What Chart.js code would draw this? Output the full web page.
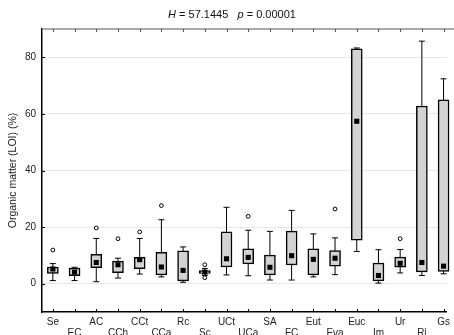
<!DOCTYPE html>
<html><head><meta charset="utf-8">
<script src="https://cdn.jsdelivr.net/npm/chart.js@4/dist/chart.umd.min.js"></script>
<style>html,body{margin:0;padding:0;background:#fff;}</style>
</head><body>
<canvas id="c" width="454" height="335"></canvas>
<script>
const categories = ['Se','EC','AC','CCh','CCt','CCa','Rc','Sc','UCt','UCa','SA','FC','Eut','Eva','Euc','Im','Ur','Ri','Gs'];
const q1      = [3.6, 2.8, 5.7, 3.9, 5.3, 3.1, 1.0, 3.6, 5.9, 7.0, 3.1, 6.6, 3.1, 6.2, 15.4, 1.0, 5.8, 4.2, 4.3];
const q3      = [5.9, 5.5, 10.4, 8.0, 9.3, 11.1, 11.6, 4.6, 18.3, 12.3, 10.1, 18.6, 12.3, 11.7, 83.0, 7.3, 9.4, 62.8, 65.0];
const medians = [5.2, 4.1, 7.5, 6.7, 8.5, 5.9, 4.7, 4.1, 8.8, 9.3, 5.8, 9.9, 8.6, 9.0, 57.4, 2.9, 7.2, 7.5, 6.2];
const whiskerLow  = [1.1, 1.1, 0.7, 2.0, 3.4, 2.4, 0.5, 2.9, 3.1, 2.8, 1.3, 1.3, 2.4, 3.2, 11.4, 0.2, 3.8, 2.9, 3.5];
const whiskerHigh = [7.1, 5.8, 16.0, 9.0, 16.0, 22.6, 13.0, 5.4, 27.0, 18.9, 18.5, 25.9, 17.6, 16.2, 83.3, 12.0, 12.1, 85.7, 72.4];
const outlierCategory = ['Se','AC','CCh','CCt','CCa','Sc','Sc','UCa','Eva','Ur'];
const outlierValue    = [11.9, 19.7, 15.9, 18.3, 27.6, 6.7, 2.1, 23.8, 26.4, 15.9];
const yTickValues = [0, 20, 40, 60, 80];
const titleParts = [['H', true], [' = 57.1445   ', false], ['p', true], [' = 0.00001', false]];
const yTitle = 'Organic matter (LOI) (%)';

const FONT = '"Liberation Sans", Arial, sans-serif';

const whiskerLine = [];
categories.forEach((c, i) => {
  whiskerLine.push({x: i, y: whiskerLow[i]}, {x: i, y: whiskerHigh[i]}, {x: i, y: null});
});
const caps = [];
categories.forEach((c, i) => { caps.push({x: i, y: whiskerLow[i]}, {x: i, y: whiskerHigh[i]}); });
const boxes = categories.map((c, i) => ({x: i, y: [q1[i], q3[i]]}));
const meds = categories.map((c, i) => ({x: i, y: medians[i]}));
const outs = outlierCategory.map((c, k) => ({x: categories.indexOf(c), y: outlierValue[k]}));

const decor = {
  id: 'decor',
  afterDraw(chart) {
    const {ctx, chartArea: a, scales: {x, y}} = chart;
    ctx.save();
    ctx.strokeStyle = '#8c8c8c';
    ctx.lineWidth = 1.5;
    ctx.beginPath(); ctx.moveTo(a.left, a.top); ctx.lineTo(chart.width, a.top); ctx.stroke();
    ctx.lineWidth = 1;
    x.ticks.forEach(t => {
      const px = Math.round(x.getPixelForValue(t.value)) + 0.5;
      ctx.strokeStyle = '#000';
      ctx.beginPath(); ctx.moveTo(px, a.bottom); ctx.lineTo(px, a.bottom - 3); ctx.stroke();
      ctx.strokeStyle = '#555';
      ctx.beginPath(); ctx.moveTo(px, a.top); ctx.lineTo(px, a.top + 3); ctx.stroke();
    });
    ctx.strokeStyle = '#000';
    y.ticks.forEach(t => {
      const py = Math.round(y.getPixelForValue(t.value)) + 0.5;
      ctx.beginPath(); ctx.moveTo(a.left, py); ctx.lineTo(a.left + 3, py); ctx.stroke();
    });
    const size = 11;
    let total = 0;
    titleParts.forEach(([t, it]) => { ctx.font = (it ? 'italic ' : '') + size + 'px ' + FONT; total += ctx.measureText(t).width; });
    let cx = 232 - total / 2;
    ctx.fillStyle = '#111';
    ctx.textBaseline = 'middle';
    ctx.textAlign = 'left';
    titleParts.forEach(([t, it]) => {
      ctx.font = (it ? 'italic ' : '') + size + 'px ' + FONT;
      ctx.fillText(t, cx, 15);
      cx += ctx.measureText(t).width;
    });
    ctx.restore();
  }
};

new Chart(document.getElementById('c'), {
  type: 'bar',
  data: {
    datasets: [
      {type: 'line', data: whiskerLine, borderColor: '#000', borderWidth: 1, pointRadius: 0, spanGaps: false, order: 4, clip: false},
      {type: 'scatter', data: caps, pointStyle: 'line', pointRadius: 3, borderColor: '#000', pointBorderWidth: 1, order: 3, clip: false},
      {type: 'bar', data: boxes, backgroundColor: '#d3d3d3', borderColor: '#000', borderWidth: 1.5, borderSkipped: false, barThickness: 11, grouped: false, order: 2, clip: false},
      {type: 'scatter', data: meds, pointStyle: 'rect', pointRadius: 3.6, backgroundColor: '#000', borderColor: '#000', pointBorderWidth: 0, order: 1, clip: false},
      {type: 'scatter', data: outs, pointStyle: 'circle', pointRadius: 1.9, backgroundColor: '#fff', borderColor: '#000', pointBorderWidth: 1, order: 0, clip: false}
    ]
  },
  options: {
    responsive: false,
    animation: false,
    events: [],
    layout: {padding: {top: 29, right: 0, left: 0, bottom: 0}},
    plugins: {legend: {display: false}, tooltip: {enabled: false}, title: {display: false}},
    scales: {
      x: {
        type: 'linear', min: -0.5, max: 18.15, offset: false,
        afterBuildTicks: s => { s.ticks = categories.map((c, i) => ({value: i})); },
        afterFit: s => { s.height = 23; },
        ticks: {
          autoSkip: false, maxRotation: 0, minRotation: 0, padding: 4,
          font: {family: FONT, size: 10, lineHeight: 1.15}, color: '#222',
          callback: (v, idx) => idx % 2 ? ['', categories[idx]] : categories[idx]
        },
        grid: {display: false, drawTicks: false, offset: false},
        border: {display: true, color: '#000', width: 1.5}
      },
      y: {
        min: -10, max: 90,
        afterBuildTicks: s => { s.ticks = yTickValues.map(v => ({value: v})); },
        afterFit: s => { s.width = 42; },
        ticks: {padding: 6, font: {family: FONT, size: 10}, color: '#222'},
        grid: {color: '#e6e6e6', lineWidth: 1, drawTicks: false},
        border: {display: true, color: '#000', width: 1.5},
        title: {display: true, text: yTitle, font: {family: FONT, size: 10.5}, color: '#222', padding: {top: 7, bottom: 0}}
      }
    }
  },
  plugins: [decor]
});
</script>
</body></html>
